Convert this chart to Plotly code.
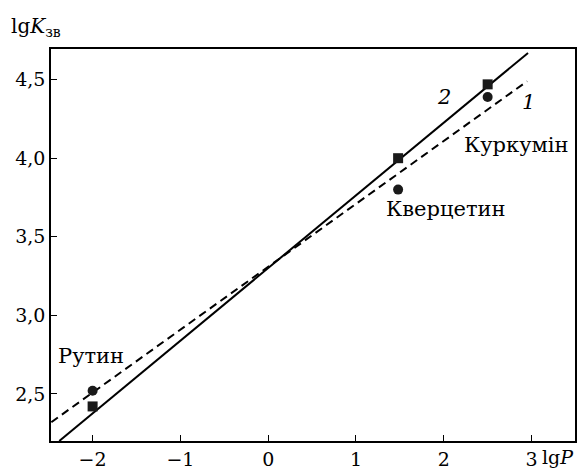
import plotly.graph_objects as go

# Data
lgP = [-2.0, 1.48, 2.5]
lgK_1 = [2.52, 3.80, 4.39]   # circles, curve 1
lgK_2 = [2.42, 4.00, 4.47]   # squares, curve 2
line1_x = [-2.47, 2.95]
line1_y = [2.32, 4.49]
line2_x = [-2.38, 2.96]
line2_y = [2.20, 4.67]
compounds = ["Рутин", "Кверцетин", "Куркумін"]
x_ticks = [-2, -1, 0, 1, 2, 3]
x_ticktext = ["−2", "−1", "0", "1", "2", "3"]
y_ticks = [2.5, 3.0, 3.5, 4.0, 4.5]
y_ticktext = ["2,5", "3,0", "3,5", "4,0", "4,5"]

FONT = "DejaVu Serif"
W, H = 578, 471
ml, mr, mt, mb = 51, 1, 49, 25
pw, ph = W - ml - mr, H - mt - mb

fig = go.Figure()
fig.add_trace(go.Scatter(x=line1_x, y=line1_y, mode="lines",
                         line=dict(color="black", width=2, dash="8px,5px"), showlegend=False))
fig.add_trace(go.Scatter(x=line2_x, y=line2_y, mode="lines",
                         line=dict(color="black", width=2), showlegend=False))
fig.add_trace(go.Scatter(x=lgP, y=lgK_1, mode="markers",
                         marker=dict(symbol="circle", size=10, color="#1a1a1a"), showlegend=False))
fig.add_trace(go.Scatter(x=lgP, y=lgK_2, mode="markers",
                         marker=dict(symbol="square", size=10, color="#1a1a1a"), showlegend=False))

annots = [
    (2.0, 4.39, "<i>2</i>", 21),
    (2.96, 4.356, "<i>1</i>", 21),
    (2.83, 4.083, compounds[2], 21),
    (2.03, 3.674, compounds[1], 21),
    (-2.02, 2.74, compounds[0], 21),
]
for x, y, t, s in annots:
    fig.add_annotation(x=x, y=y, text=t, showarrow=False, xref="x", yref="y",
                       xanchor="center", yanchor="middle",
                       font=dict(family=FONT, size=s, color="black"))


def paper(px, py):
    return (px - ml) / pw, 1 - (py - mt) / ph


x0, y0 = paper(9, 27)
fig.add_annotation(x=x0, y=y0, xref="paper", yref="paper",
                   text="lg<i>K</i><sub>зв</sub>", showarrow=False,
                   xanchor="left", yanchor="middle",
                   font=dict(family=FONT, size=20, color="black"))
x1, y1 = paper(542, 461.7)
fig.add_annotation(x=x1, y=y1, xref="paper", yref="paper",
                   text="lg<i>P</i>", showarrow=False,
                   xanchor="left", yanchor="middle",
                   font=dict(family=FONT, size=19, color="black"))

fig.update_xaxes(range=[-2.474, 3.495], tickvals=x_ticks, ticktext=x_ticktext,
                 ticks="inside", ticklen=6, tickwidth=1.2, tickcolor="black",
                 showline=True, linecolor="black", linewidth=1.5, mirror=True,
                 showgrid=False, zeroline=False,
                 tickfont=dict(family=FONT, size=19, color="black"))
fig.update_yaxes(range=[2.2, 4.695], tickvals=y_ticks, ticktext=y_ticktext,
                 ticks="inside", ticklen=6, tickwidth=1.2, tickcolor="black",
                 showline=True, linecolor="black", linewidth=1.5, mirror=True,
                 showgrid=False, zeroline=False,
                 tickfont=dict(family=FONT, size=19, color="black"))
fig.update_layout(width=W, height=H, font=dict(family=FONT),
                  margin=dict(l=ml, r=mr, t=mt, b=mb),
                  plot_bgcolor="white", paper_bgcolor="white")
fig.write_html("out.html")
